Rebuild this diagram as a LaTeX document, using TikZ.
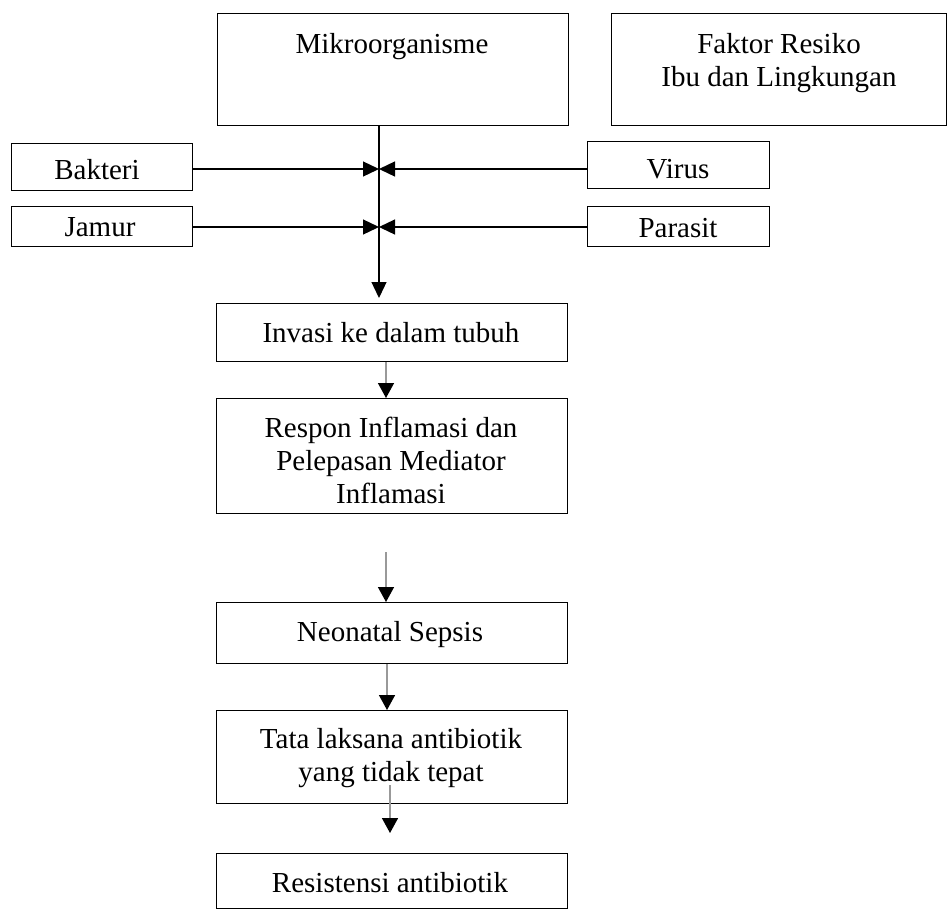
\documentclass[tikz,border=0pt]{standalone}
\usepackage{fontspec}
\setmainfont{Liberation Serif}
\usetikzlibrary{arrows.meta,calc}
\begin{document}
\begin{tikzpicture}[x=1pt,y=-1pt,
  box/.style={draw=black,line width=1.3pt,inner sep=0pt,anchor=north west},
  txt/.style={inner sep=0pt,align=center,font=\fontsize{29}{33}\selectfont},
  arr/.style={draw=black,line width=1.3pt,-{Triangle[length=16pt,width=15pt]}},
  garr/.style={draw=black!40,line width=1.5pt,-{Triangle[length=15pt,width=16pt,color=black,fill=black]}}]
\useasboundingbox (0,0) rectangle (949,916);
% boxes
\node[box,minimum width=351pt,minimum height=112pt] (mik) at (217,13) {};
\node[txt,anchor=base] (mikt) at (392,53) {Mikroorganisme};
\node[box,minimum width=335pt,minimum height=112pt] (fak) at (611,13) {};
\node[txt,anchor=north] (fakt) at (779,33) {Faktor Resiko\\Ibu dan Lingkungan};
\node[box,minimum width=181pt,minimum height=47pt] (bak) at (11,143) {};
\node[txt,anchor=base] (bakt) at (97,179) {Bakteri};
\node[box,minimum width=182pt,minimum height=47pt] (vir) at (587,141) {};
\node[txt,anchor=base] (virt) at (678,178) {Virus};
\node[box,minimum width=181pt,minimum height=40pt] (jam) at (11,206) {};
\node[txt,anchor=base] (jamt) at (100,236) {Jamur};
\node[box,minimum width=182pt,minimum height=40pt] (par) at (587,206) {};
\node[txt,anchor=base] (part) at (678,237) {Parasit};
\node[box,minimum width=351pt,minimum height=58pt] (inv) at (216,303) {};
\node[txt,anchor=base] (invt) at (391,342) {Invasi ke dalam tubuh};
\node[box,minimum width=351pt,minimum height=115pt] (res) at (216,398) {};
\node[txt,anchor=north] (rest) at (391,417) {Respon Inflamasi dan\\Pelepasan Mediator\\Inflamasi};
\node[box,minimum width=351pt,minimum height=61pt] (neo) at (216,602) {};
\node[txt,anchor=base] (neot) at (390,641) {Neonatal Sepsis};
\node[box,minimum width=351pt,minimum height=93pt] (tat) at (216,710) {};
\node[txt,anchor=north] (tatt) at (391,728) {Tata laksana antibiotik\\yang tidak tepat};
\node[box,minimum width=351pt,minimum height=55pt] (rab) at (216,853) {};
\node[txt,anchor=base] (rabt) at (390,892) {Resistensi antibiotik};
% junction coordinates
\coordinate (j1) at (379,169);
\coordinate (j2) at (379,227);
\coordinate (g1) at (386,0);
\coordinate (g2) at (386,0);
\coordinate (g3) at (387,0);
\coordinate (g4) at (390,0);
% connectors
\draw[arr] (mik.south -| j1) -- ($(inv.north -| j1)+(0,-5)$);
\draw[arr] (bak.east |- j1) -- (j1);
\draw[arr] (vir.west |- j1) -- (j1);
\draw[arr] (jam.east |- j2) -- (j2);
\draw[arr] (par.west |- j2) -- (j2);
\draw[garr] (inv.south -| g1) -- (res.north -| g1);
\draw[garr] ($(neo.north -| g2)+(0,-50)$) -- (neo.north -| g2);
\draw[garr] (neo.south -| g3) -- (tat.north -| g3);
\draw[garr] ($(rab.north -| g4)+(0,-68)$) -- ($(rab.north -| g4)+(0,-20)$);
\end{tikzpicture}
\end{document}
